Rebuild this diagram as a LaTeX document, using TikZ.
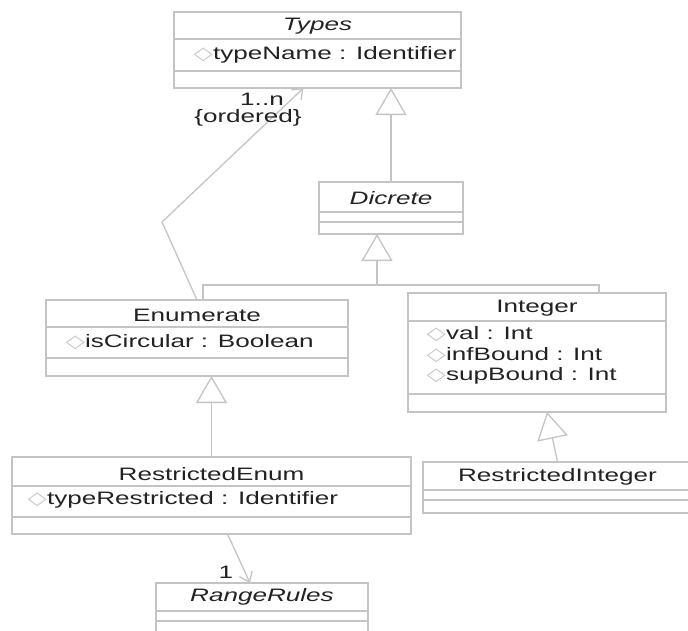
\documentclass[tikz,border=0pt]{standalone}
\usepackage{fontspec}
\setmainfont{Liberation Sans}[FakeStretch=1.45]
\newfontfamily\iconfont{DejaVu Sans}
\usetikzlibrary{arrows.meta}

\definecolor{linegray}{RGB}{196,196,196}
\definecolor{icongray}{RGB}{200,200,200}
\definecolor{textgray}{RGB}{34,34,34}
\newcommand{\attricon}{{\color{icongray}\scalebox{1.4}[1]{\iconfont\symbol{"25C7}}}}

\begin{document}
\begin{tikzpicture}[x=1pt, y=-1pt, line width=1.3pt,
  every node/.style={text=textgray, font=\fontsize{18}{21}\selectfont},
  classbox/.style={draw=linegray, inner sep=0pt, outer sep=0pt, anchor=north west},
  attr/.style={anchor=west, inner sep=0pt},
  mult/.style={inner sep=0pt},
  sep/.style={draw=linegray},
  gen/.style={draw=linegray, -{Triangle[open, length=27pt, width=31pt]}},
  assoc/.style={draw=linegray, -{Straight Barb[length=9pt, width=14pt]}}]
  \useasboundingbox (0,0) rectangle (688,630);

  % Types
  \node[classbox, minimum width=287pt, minimum height=76pt] (types) at (174,12) {};
  \draw[sep] ([yshift=-27pt]types.north west) -- ([yshift=-27pt]types.north east);
  \draw[sep] ([yshift=-59pt]types.north west) -- ([yshift=-59pt]types.north east);
  \node (types-title) at ([yshift=-14pt]types.north) {\itshape Types};
  \node[attr] (types-a1) at ([xshift=19pt,yshift=-43pt]types.north west) {\attricon typeName : Identifier};

  % Dicrete
  \node[classbox, minimum width=144pt, minimum height=52pt] (dicrete) at (319,182) {};
  \draw[sep] ([yshift=-30pt]dicrete.north west) -- ([yshift=-30pt]dicrete.north east);
  \draw[sep] ([yshift=-40pt]dicrete.north west) -- ([yshift=-40pt]dicrete.north east);
  \node (dicrete-title) at ([yshift=-16pt]dicrete.north) {\itshape Dicrete};

  % Enumerate
  \node[classbox, minimum width=302pt, minimum height=76pt] (enumerate) at (46,300) {};
  \draw[sep] ([yshift=-27pt]enumerate.north west) -- ([yshift=-27pt]enumerate.north east);
  \draw[sep] ([yshift=-58pt]enumerate.north west) -- ([yshift=-58pt]enumerate.north east);
  \node (enumerate-title) at ([yshift=-15pt]enumerate.north) {Enumerate};
  \node[attr] (enumerate-a1) at ([xshift=19pt,yshift=-42pt]enumerate.north west) {\attricon isCircular : Boolean};

  % Integer
  \node[classbox, minimum width=258pt, minimum height=119pt] (integer) at (408,293) {};
  \draw[sep] ([yshift=-28pt]integer.north west) -- ([yshift=-28pt]integer.north east);
  \draw[sep] ([yshift=-101pt]integer.north west) -- ([yshift=-101pt]integer.north east);
  \node (integer-title) at ([yshift=-15pt]integer.north) {Integer};
  \node[attr] (integer-a1) at ([xshift=18pt,yshift=-41pt]integer.north west) {\attricon val : Int};
  \node[attr] (integer-a2) at ([xshift=18pt,yshift=-62pt]integer.north west) {\attricon infBound : Int};
  \node[attr] (integer-a3) at ([xshift=18pt,yshift=-83pt]integer.north west) {\attricon supBound : Int};

  % RestrictedEnum
  \node[classbox, minimum width=399pt, minimum height=77pt] (restrictedenum) at (12,457) {};
  \draw[sep] ([yshift=-29pt]restrictedenum.north west) -- ([yshift=-29pt]restrictedenum.north east);
  \draw[sep] ([yshift=-60pt]restrictedenum.north west) -- ([yshift=-60pt]restrictedenum.north east);
  \node (restrictedenum-title) at ([yshift=-17pt]restrictedenum.north) {RestrictedEnum};
  \node[attr] (restrictedenum-a1) at ([xshift=15pt,yshift=-43pt]restrictedenum.north west) {\attricon typeRestricted : Identifier};

  % RestrictedInteger
  \node[classbox, minimum width=269pt, minimum height=51pt] (restrictedinteger) at (423,462) {};
  \draw[sep] ([yshift=-28pt]restrictedinteger.north west) -- ([yshift=-28pt]restrictedinteger.north east);
  \draw[sep] ([yshift=-38pt]restrictedinteger.north west) -- ([yshift=-38pt]restrictedinteger.north east);
  \node (restrictedinteger-title) at ([yshift=-15pt]restrictedinteger.north) {RestrictedInteger};

  % RangeRules
  \node[classbox, minimum width=212pt, minimum height=57pt] (rangerules) at (156,583) {};
  \draw[sep] ([yshift=-28pt]rangerules.north west) -- ([yshift=-28pt]rangerules.north east);
  \draw[sep] ([yshift=-38pt]rangerules.north west) -- ([yshift=-38pt]rangerules.north east);
  \node (rangerules-title) at ([yshift=-14pt]rangerules.north) {\itshape RangeRules};

  % generalisations
  \coordinate (genjoin) at (377,285);
  \draw[gen] (dicrete.north) -- (dicrete.north |- types.south);
  \draw[gen] (genjoin) -- (genjoin |- dicrete.south);
  \draw[sep] ([xshift=157pt]enumerate.north west) |- (genjoin) -| ([xshift=191pt]integer.north west);
  \draw[gen] (restrictedenum.north) -- (restrictedenum.north |- enumerate.south);
  \draw[gen] (restrictedinteger.north) -- ([xshift=10pt]integer.south);

  % associations
  \coordinate (bend) at (162,222);
  \draw[assoc] (enumerate.north) -- (bend) -- ([xshift=-14pt]types.south);
  \node[mult] (mult-types) at (262,99) {1..n};
  \node[mult] (ordered) at (248,118) {\{ordered\}};
  \draw[assoc] ([xshift=16pt]restrictedenum.south) -- ([xshift=-12pt]rangerules.north);
  \node[mult] (mult-range) at (226,572) {1};
\end{tikzpicture}
\end{document}
